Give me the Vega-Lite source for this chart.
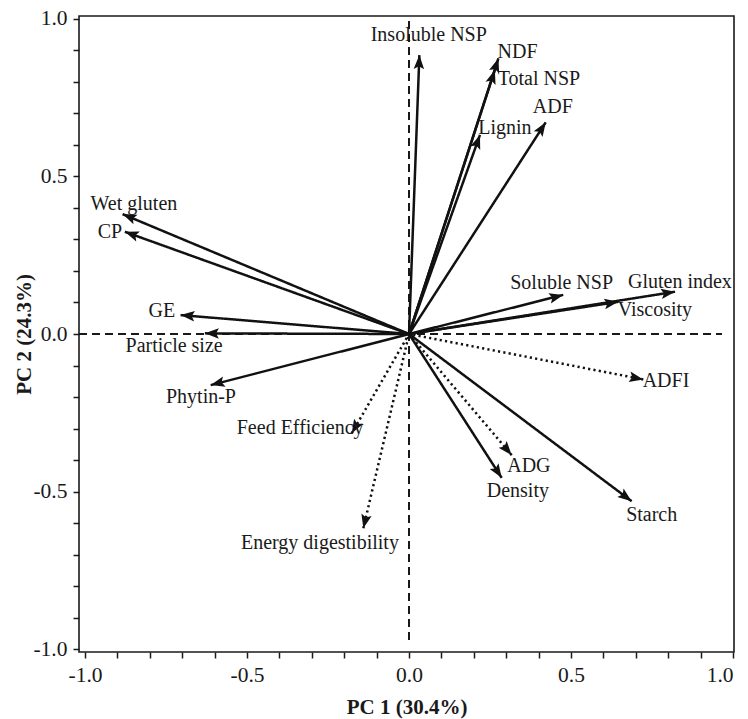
{
  "$schema": "https://vega.github.io/schema/vega-lite/v6.json",
  "width": 655,
  "height": 636,
  "autosize": {"type": "none"},
  "padding": {"left": 79, "top": 16, "right": 14, "bottom": 67},
  "background": "white",
  "config": {
    "font": "Liberation Serif",
    "view": {"stroke": "#1a1a1a", "strokeWidth": 1.6},
    "axis": {
      "domain": false,
      "grid": false,
      "ticks": true,
      "tickColor": "#1a1a1a",
      "tickWidth": 1.5,
      "tickSize": 6,
      "labelFont": "Liberation Serif",
      "labelFontSize": 21.5,
      "labelColor": "#1a1a1a",
      "titleFont": "Liberation Serif",
      "titleFontSize": 21,
      "titleFontWeight": "bold",
      "titleColor": "#1a1a1a",
      "values": [-1, -0.75, -0.5, -0.25, 0, 0.25, 0.5, 0.75, 1],
      "labelExpr": "datum.value % 0.5 == 0 ? (datum.value < 0 ? '-' : '') + format(abs(datum.value), '.1f') : ''"
    },
    "axisX": {"labelPadding": 6, "titleBaseline": "alphabetic", "titleY": 61},
    "axisY": {"labelPadding": 6, "titleBaseline": "alphabetic", "titleX": -49, "titleAngle": -90}
  },
  "data": {
    "values": [
      {"name": "Insoluble NSP", "group": "feed", "x": 0.032, "y": 0.884, "lx": 0.061, "ly": 0.948},
      {"name": "NDF", "group": "feed", "x": 0.276, "y": 0.874, "lx": 0.335, "ly": 0.894},
      {"name": "Total NSP", "group": "feed", "x": 0.265, "y": 0.837, "lx": 0.401, "ly": 0.808},
      {"name": "Lignin", "group": "feed", "x": 0.219, "y": 0.631, "lx": 0.296, "ly": 0.653},
      {"name": "ADF", "group": "feed", "x": 0.422, "y": 0.671, "lx": 0.444, "ly": 0.719},
      {"name": "Wet gluten", "group": "feed", "x": -0.884, "y": 0.38, "lx": -0.849, "ly": 0.412},
      {"name": "CP", "group": "feed", "x": -0.877, "y": 0.324, "lx": -0.923, "ly": 0.323},
      {"name": "GE", "group": "feed", "x": -0.705, "y": 0.06, "lx": -0.763, "ly": 0.073},
      {"name": "Particle size", "group": "feed", "x": -0.63, "y": 0.002, "lx": -0.725, "ly": -0.038},
      {"name": "Phytin-P", "group": "feed", "x": -0.612, "y": -0.162, "lx": -0.642, "ly": -0.2},
      {"name": "Soluble NSP", "group": "feed", "x": 0.476, "y": 0.124, "lx": 0.471, "ly": 0.162},
      {"name": "Viscosity", "group": "feed", "x": 0.646, "y": 0.102, "lx": 0.759, "ly": 0.076},
      {"name": "Gluten index", "group": "feed", "x": 0.821, "y": 0.134, "lx": 0.836, "ly": 0.166},
      {"name": "Starch", "group": "feed", "x": 0.687, "y": -0.53, "lx": 0.749, "ly": -0.574},
      {"name": "Density", "group": "feed", "x": 0.286, "y": -0.456, "lx": 0.336, "ly": -0.498},
      {"name": "ADFI", "group": "performance", "x": 0.723, "y": -0.144, "lx": 0.793, "ly": -0.149},
      {"name": "ADG", "group": "performance", "x": 0.317, "y": -0.384, "lx": 0.37, "ly": -0.418},
      {"name": "Feed Efficiency", "group": "performance", "x": -0.177, "y": -0.315, "lx": -0.336, "ly": -0.298},
      {"name": "Energy digestibility", "group": "performance", "x": -0.141, "y": -0.616, "lx": -0.275, "ly": -0.662}
    ]
  },
  "layer": [
    {
      "mark": {"type": "rule", "stroke": "#1a1a1a", "strokeWidth": 1.5, "strokeDash": [8, 5]},
      "encoding": {
        "x": {"datum": -1.0185, "type": "quantitative", "scale": {"domain": [-1.0185, 1.003], "nice": false, "zero": false}, "title": "PC 1 (30.4%)"},
        "x2": {"datum": 0.966},
        "y": {"datum": 0, "type": "quantitative", "scale": {"domain": [-1.008, 1.008], "nice": false, "zero": false}, "title": "PC 2 (24.3%)"}
      }
    },
    {
      "mark": {"type": "rule", "stroke": "#1a1a1a", "strokeWidth": 1.5, "strokeDash": [8, 5]},
      "encoding": {
        "x": {"datum": 0, "type": "quantitative", "scale": {"domain": [-1.0185, 1.003], "nice": false, "zero": false}, "title": "PC 1 (30.4%)"},
        "y": {"datum": -0.97, "type": "quantitative", "scale": {"domain": [-1.008, 1.008], "nice": false, "zero": false}, "title": "PC 2 (24.3%)"},
        "y2": {"datum": 0.995}
      }
    },
    {
      "mark": {"type": "rule", "strokeWidth": 2.5, "stroke": "#111111", "strokeCap": "butt"},
      "encoding": {
        "x": {"field": "x", "type": "quantitative", "scale": {"domain": [-1.0185, 1.003], "nice": false, "zero": false}, "title": "PC 1 (30.4%)"},
        "y": {"field": "y", "type": "quantitative", "scale": {"domain": [-1.008, 1.008], "nice": false, "zero": false}, "title": "PC 2 (24.3%)"},
        "x2": {"datum": 0},
        "y2": {"datum": 0},
        "strokeDash": {"field": "group", "type": "nominal", "scale": {"domain": ["feed", "performance"], "range": [[1, 0], [2.2, 3.2]]}, "legend": null}
      }
    },
    {
      "transform": [{"calculate": "atan2(datum.x * 324, datum.y * 315.5) * 180 / PI", "as": "angle"}],
      "mark": {"type": "point", "filled": true, "opacity": 1, "color": "#111111", "shape": "M0,0 L0.75,2 L0,1.6 L-0.75,2 Z", "size": 196},
      "encoding": {
        "x": {"field": "x", "type": "quantitative", "scale": {"domain": [-1.0185, 1.003], "nice": false, "zero": false}, "title": "PC 1 (30.4%)"},
        "y": {"field": "y", "type": "quantitative", "scale": {"domain": [-1.008, 1.008], "nice": false, "zero": false}, "title": "PC 2 (24.3%)"},
        "angle": {"field": "angle", "type": "quantitative", "scale": null}
      }
    },
    {
      "mark": {"type": "text", "fontSize": 20, "font": "Liberation Serif", "color": "#1a1a1a", "align": "center", "baseline": "middle"},
      "encoding": {
        "x": {"field": "lx", "type": "quantitative", "scale": {"domain": [-1.0185, 1.003], "nice": false, "zero": false}, "title": "PC 1 (30.4%)"},
        "y": {"field": "ly", "type": "quantitative", "scale": {"domain": [-1.008, 1.008], "nice": false, "zero": false}, "title": "PC 2 (24.3%)"},
        "text": {"field": "name", "type": "nominal"}
      }
    }
  ]
}
